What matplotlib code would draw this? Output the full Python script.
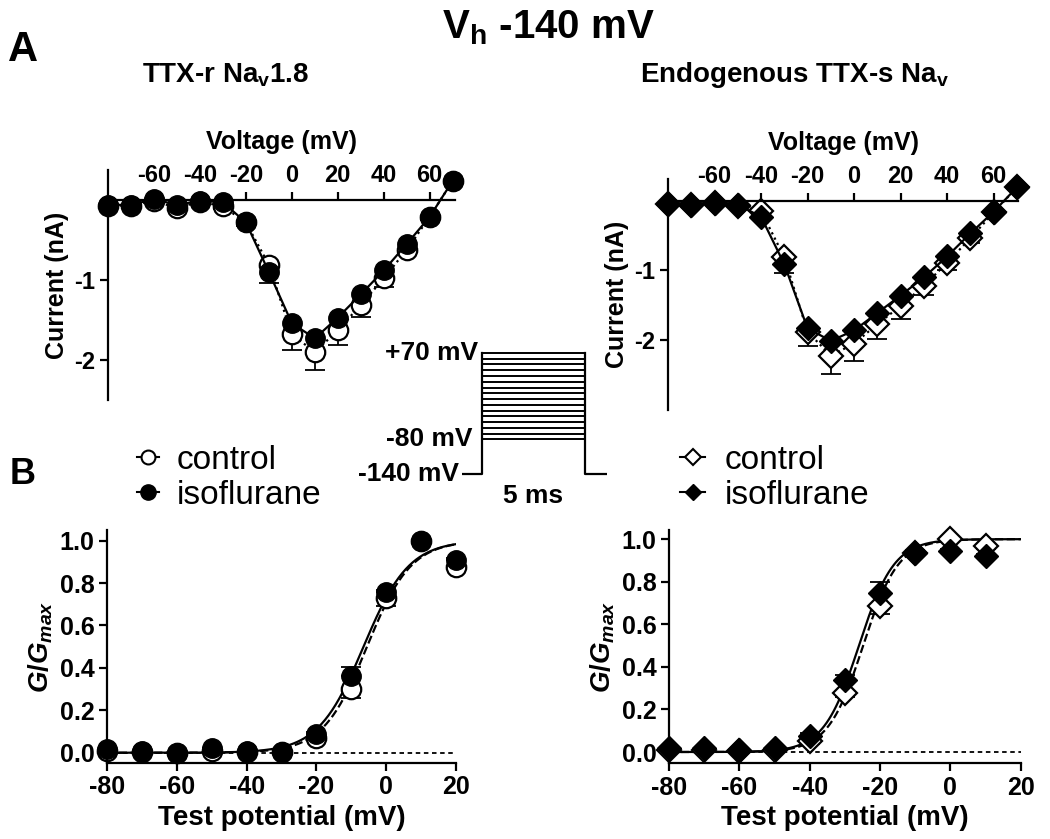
import numpy as np
import matplotlib
matplotlib.use("Agg")
import matplotlib.pyplot as plt
from matplotlib.lines import Line2D

plt.rcParams["font.family"] = ["Liberation Sans", "DejaVu Sans"]
plt.rcParams["font.weight"] = "bold"
plt.rcParams["axes.labelweight"] = "bold"
plt.rcParams["axes.unicode_minus"] = False
plt.rcParams["mathtext.fontset"] = "custom"
plt.rcParams["mathtext.rm"] = "Liberation Sans:bold"
plt.rcParams["mathtext.it"] = "Liberation Sans:italic:bold"
plt.rcParams["mathtext.bf"] = "Liberation Sans:bold"
plt.rcParams["mathtext.default"] = "regular"

# ---- current-voltage data (nA) ----
iv_v = [-80, -70, -60, -50, -40, -30, -20, -10, 0, 10, 20, 30, 40, 50, 60, 70]
nav18_ctrl = [-0.07, -0.07, -0.01, -0.10, -0.02, -0.08, -0.28, -0.81, -1.68, -1.90, -1.63, -1.31, -0.98, -0.62, -0.21, 0.24]
nav18_ctrl_err = [0.02, 0.02, 0.02, 0.03, 0.02, 0.03, 0.05, 0.23, 0.19, 0.22, 0.18, 0.15, 0.11, 0.06, 0.04, 0.03]
nav18_iso = [-0.06, -0.06, 0.01, -0.06, -0.01, -0.03, -0.28, -0.90, -1.54, -1.73, -1.47, -1.18, -0.88, -0.55, -0.21, 0.24]

ttxs_ctrl = [-0.05, -0.06, -0.03, -0.07, -0.15, -0.81, -1.88, -2.22, -2.05, -1.77, -1.51, -1.22, -0.89, -0.54, -0.17, 0.19]
ttxs_ctrl_err = [0.02, 0.02, 0.02, 0.03, 0.04, 0.23, 0.20, 0.27, 0.25, 0.21, 0.18, 0.13, 0.11, 0.06, 0.04, 0.03]
ttxs_iso = [-0.05, -0.06, -0.03, -0.06, -0.23, -0.91, -1.83, -2.01, -1.86, -1.61, -1.36, -1.10, -0.80, -0.47, -0.16, 0.19]

# ---- conductance-voltage data (G/Gmax) ----
gv18_v = [-80, -70, -60, -50, -40, -30, -20, -10, 0, 10, 20]
gv18_ctrl = [0.01, 0.005, 0.0, 0.01, 0.005, 0.005, 0.07, 0.30, 0.73, 1.0, 0.875]
gv18_ctrl_err = [0, 0, 0, 0, 0, 0, 0.01, 0.04, 0.04, 0, 0.01]
gv18_iso = [0.016, 0.01, 0.0, 0.02, 0.01, 0.005, 0.09, 0.36, 0.756, 1.0, 0.91]
gv18_iso_err = [0, 0, 0, 0, 0, 0, 0.01, 0.045, 0.01, 0, 0.01]

gvs_v = [-80, -70, -60, -50, -40, -30, -20, -10, 0, 10]
gvs_ctrl = [0.01, 0.01, 0.005, 0.008, 0.05, 0.277, 0.684, 0.934, 1.0, 0.966]
gvs_ctrl_err = [0, 0, 0, 0, 0.01, 0.02, 0.035, 0.01, 0, 0.01]
gvs_iso = [0.02, 0.02, 0.01, 0.02, 0.077, 0.34, 0.746, 0.937, 0.945, 0.919]
gvs_iso_err = [0, 0, 0, 0, 0.01, 0.02, 0.055, 0.01, 0.01, 0.01]

# Boltzmann fit parameters (V1/2, k)
fit18_iso = (-6.5, 6.5)
fit18_ctrl = (-5.5, 6.3)
fits_iso = (-26.0, 5.0)
fits_ctrl = (-24.8, 5.0)

# voltage protocol step levels (mV)
steps = [-80, -70, -60, -50, -40, -30, -20, -10, 0, 10, 20, 30, 40, 50, 60, 70]

W, H = 1050, 839
fig = plt.figure(figsize=(W / 100, H / 100), dpi=100)


def px_axes(x0, y0, x1, y1):
    return fig.add_axes([x0 / W, 1 - y1 / H, (x1 - x0) / W, (y1 - y0) / H])


def boltz(v, p):
    return 1.0 / (1.0 + np.exp((p[0] - v) / p[1]))


def style_iv(ax, xlim, ylim):
    ax.set_xlim(*xlim)
    ax.set_ylim(*ylim)
    ax.spines["right"].set_visible(False)
    ax.spines["bottom"].set_visible(False)
    ax.spines["top"].set_position(("data", 0))
    for s in ("top", "left"):
        ax.spines[s].set_linewidth(1.6)
    ax.xaxis.tick_top()
    ax.xaxis.set_label_position("top")
    ax.set_xticks([-60, -40, -20, 0, 20, 40, 60])
    ax.set_yticks([-2, -1])
    ax.tick_params(width=1.6, length=6, labelsize=17, pad=3)
    ax.set_xlabel("Voltage (mV)", fontsize=18, labelpad=11)
    ax.set_ylabel("Current (nA)", fontsize=18, labelpad=4)
    ax.patch.set_alpha(0)


def style_gv(ax):
    ax.set_xlim(-80, 20)
    ax.spines["right"].set_visible(False)
    ax.spines["top"].set_visible(False)
    for s in ("bottom", "left"):
        ax.spines[s].set_linewidth(1.6)
    ax.set_xticks([-80, -60, -40, -20, 0, 20])
    ax.set_yticks([0, 0.2, 0.4, 0.6, 0.8, 1.0])
    ax.set_yticklabels(["0.0", "0.2", "0.4", "0.6", "0.8", "1.0"])
    ax.tick_params(width=1.6, length=6, labelsize=18, pad=3)
    ax.set_xlabel("Test potential (mV)", fontsize=20, labelpad=4)
    ax.set_ylabel(r"$\mathit{G/G_{max}}$", fontsize=20, labelpad=3)


# ---- A: I-V curves ----
ax1 = px_axes(108, 170, 455, 400)
ax1.errorbar(iv_v, nav18_ctrl, yerr=[nav18_ctrl_err, np.zeros(len(iv_v))], fmt="none",
             ecolor="k", elinewidth=1.3, capsize=7, capthick=1.3, zorder=1)
ax1.plot(iv_v, nav18_ctrl, ls=":", lw=1.6, color="k", marker="o", ms=14, mfc="white",
         mec="k", mew=1.6, zorder=2, clip_on=False)
ax1.plot(iv_v, nav18_iso, ls="-", lw=1.6, color="k", marker="o", ms=14, mfc="k",
         mec="k", zorder=3, clip_on=False)
style_iv(ax1, (-80, 71), (-2.5, 0.375))

ax2 = px_axes(668, 179, 1018, 410)
ax2.errorbar(iv_v, ttxs_ctrl, yerr=[ttxs_ctrl_err, np.zeros(len(iv_v))], fmt="none",
             ecolor="k", elinewidth=1.3, capsize=7, capthick=1.3, zorder=1)
ax2.plot(iv_v, ttxs_ctrl, ls=":", lw=1.6, color="k", marker="D", ms=12, mfc="white",
         mec="k", mew=1.6, zorder=2, clip_on=False)
ax2.plot(iv_v, ttxs_iso, ls="-", lw=1.6, color="k", marker="D", ms=12, mfc="k",
         mec="k", zorder=3, clip_on=False)
style_iv(ax2, (-80, 70.5), (-3.0, 0.31))

# ---- B: G-V curves ----
vfit = np.linspace(-80, 20, 300)

ax3 = px_axes(107, 530, 456, 762.7)
ax3.plot([-80, 20], [0, 0], ls=(0, (2.5, 2)), lw=1.3, color="k", zorder=0)
ax3.plot(vfit, boltz(vfit, fit18_ctrl), ls="--", lw=1.6, color="k", zorder=1)
ax3.plot(vfit, boltz(vfit, fit18_iso), ls="-", lw=1.6, color="k", zorder=1)
ax3.errorbar(gv18_v, gv18_ctrl, yerr=[gv18_ctrl_err, np.zeros(len(gv18_v))], fmt="none",
             ecolor="k", elinewidth=1.3, capsize=7, capthick=1.3, zorder=1)
ax3.errorbar(gv18_v, gv18_iso, yerr=[np.zeros(len(gv18_v)), gv18_iso_err], fmt="none",
             ecolor="k", elinewidth=1.3, capsize=7, capthick=1.3, zorder=1)
ax3.plot(gv18_v, gv18_ctrl, ls="none", marker="o", ms=14, mfc="white", mec="k", mew=1.6,
         zorder=2, clip_on=False)
ax3.plot(gv18_v, gv18_iso, ls="none", marker="o", ms=14, mfc="k", mec="k", zorder=3,
         clip_on=False)
ax3.set_ylim(-0.047, 1.05)
style_gv(ax3)

ax4 = px_axes(669, 530, 1020.7, 763.3)
ax4.plot([-80, 20], [0, 0], ls=(0, (2.5, 2)), lw=1.3, color="k", zorder=0)
ax4.plot(vfit, boltz(vfit, fits_ctrl), ls="--", lw=1.6, color="k", zorder=1)
ax4.plot(vfit, boltz(vfit, fits_iso), ls="-", lw=1.6, color="k", zorder=1)
ax4.errorbar(gvs_v, gvs_ctrl, yerr=[gvs_ctrl_err, np.zeros(len(gvs_v))], fmt="none",
             ecolor="k", elinewidth=1.3, capsize=7, capthick=1.3, zorder=1)
ax4.errorbar(gvs_v, gvs_iso, yerr=[np.zeros(len(gvs_v)), gvs_iso_err], fmt="none",
             ecolor="k", elinewidth=1.3, capsize=7, capthick=1.3, zorder=1)
ax4.plot(gvs_v, gvs_ctrl, ls="none", marker="D", ms=12, mfc="white", mec="k", mew=1.6,
         zorder=2, clip_on=False)
ax4.plot(gvs_v, gvs_iso, ls="none", marker="D", ms=12, mfc="k", mec="k", zorder=3,
         clip_on=False)
ax4.set_ylim(-0.053, 1.043)
style_gv(ax4)

# ---- voltage protocol ----
axp = px_axes(462, 347.2, 607, 479.8)
axp.set_xlim(-1, 6.1)
axp.set_ylim(-150, 80)
axp.axis("off")
for lev in steps:
    axp.plot([0, 5], [lev, lev], color="k", lw=1.4)
axp.plot([-1, 0, 0], [-140, -140, 70], color="k", lw=1.6)
axp.plot([5, 5, 6.1], [70, -140, -140], color="k", lw=1.6)
axp.text(-0.2, 70, "+70 mV", ha="right", va="center", fontsize=19)
axp.text(-0.5, -80, "-80 mV", ha="right", va="center", fontsize=19)
axp.text(-1.15, -140, "-140 mV", ha="right", va="center", fontsize=19)
axp.text(2.5, -178, "5 ms", ha="center", va="center", fontsize=19)

# ---- legends ----
h_ctrl_c = Line2D([], [], color="k", lw=1.5, marker="o", ms=10, mfc="white", mec="k", mew=1.5)
h_iso_c = Line2D([], [], color="k", lw=1.5, marker="o", ms=11, mfc="k", mec="k")
fig.legend([h_ctrl_c, h_iso_c], ["control", "isoflurane"], loc="upper left",
           bbox_to_anchor=(137 / W, 1 - 445 / H), frameon=False, handlelength=0.65,
           handletextpad=0.55, labelspacing=0.12, borderpad=0, borderaxespad=0,
           prop={"size": 24, "weight": "normal"})

h_ctrl_d = Line2D([], [], color="k", lw=1.5, marker="D", ms=8, mfc="white", mec="k", mew=1.5)
h_iso_d = Line2D([], [], color="k", lw=1.5, marker="D", ms=8, mfc="k", mec="k")
fig.legend([h_ctrl_d, h_iso_d], ["control", "isoflurane"], loc="upper left",
           bbox_to_anchor=(680 / W, 1 - 445 / H), frameon=False, handlelength=0.75,
           handletextpad=0.6, labelspacing=0.12, borderpad=0, borderaxespad=0,
           prop={"size": 24, "weight": "normal"})

# ---- titles and panel letters ----
fig.text(548 / W, 1 - 28 / H, r"V$_{h}$ -140 mV", ha="center", va="center", fontsize=29)
fig.text(8 / W, 1 - 50 / H, "A", ha="left", va="center", fontsize=30)
fig.text(10 / W, 1 - 474 / H, "B", ha="left", va="center", fontsize=26)
fig.text(226 / W, 1 - 75 / H, r"TTX-r Na$_{v}$1.8", ha="center", va="center", fontsize=20)
fig.text(795 / W, 1 - 75 / H, r"Endogenous TTX-s Na$_{v}$", ha="center", va="center", fontsize=20)

fig.savefig("out.png", dpi=100)
